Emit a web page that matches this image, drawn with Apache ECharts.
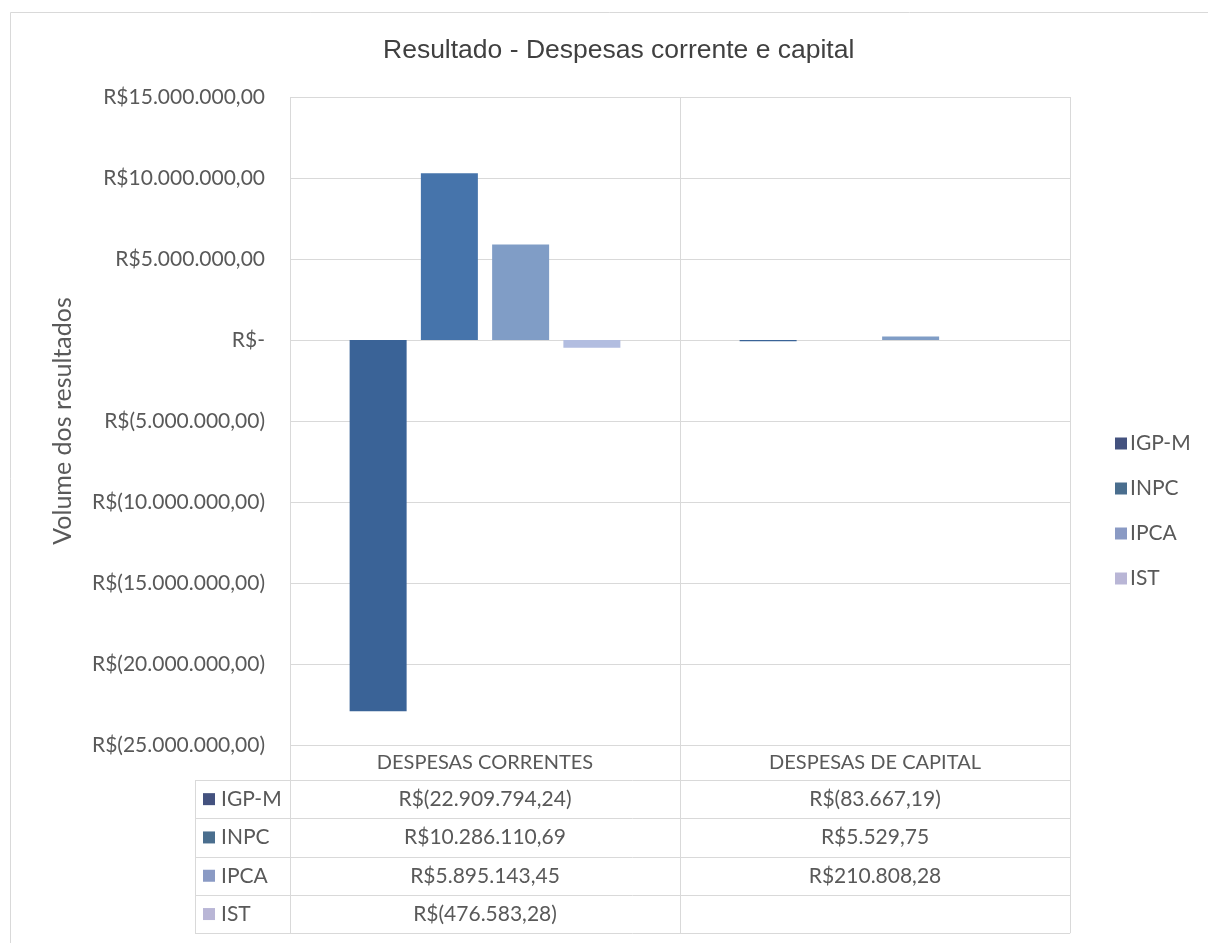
<!DOCTYPE html>
<html>
<head>
<meta charset="utf-8">
<script src="https://cdn.jsdelivr.net/npm/echarts@6/dist/echarts.min.js"></script>
<style>
  html, body { margin: 0; padding: 0; background: #ffffff; }
  #chart { width: 1208px; height: 943px; }
</style>
</head>
<body>
<div id="chart"></div>
<script>
// Categories and series values (R$)
const categories = ['DESPESAS CORRENTES', 'DESPESAS DE CAPITAL'];
const seriesNames = ['IGP-M', 'INPC', 'IPCA', 'IST'];
const igpm = [-22909794.24, -83667.19];
const inpc = [10286110.69, 5529.75];
const ipca = [5895143.45, 210808.28];
const ist = [-476583.28, null];
const yTicks = { min: -25000000, max: 15000000, interval: 5000000 };

const seriesValues = [igpm, inpc, ipca, ist];
const barColors = ['#3a6397', '#4674ab', '#809dc6', '#b2bde0'];
const keyColors = ['#44527f', '#4a6e8e', '#8a9ac4', '#b9b6d6'];

const LABEL_FONT = 'Lato, "Noto Sans", sans-serif';
const TEXT_COLOR = '#595959';

// Brazilian currency format: R$1.234,56 / R$(1.234,56)
function brl(v, decimals) {
  const abs = Math.abs(v);
  const parts = abs.toFixed(decimals).split('.');
  const int = parts[0].replace(/\B(?=(\d{3})+(?!\d))/g, '.');
  const s = decimals ? int + ',' + parts[1] : int;
  return v < 0 ? 'R$(' + s + ')' : 'R$' + s;
}
function axisLabel(v) {
  if (v === 0) return 'R$-';
  return brl(v, 2);
}

const chart = echarts.init(document.getElementById('chart'), null, { renderer: 'canvas' });

const option = {
  backgroundColor: '#ffffff',
  animation: false,
  title: {
    text: 'Resultado - Despesas corrente e capital',
    left: 378,
    top: 32,
    textStyle: { fontFamily: '"Liberation Sans", Arial, sans-serif', fontSize: 26.5, fontWeight: 'normal', color: '#404040' }
  },
  legend: {
    orient: 'vertical',
    left: 1110,
    top: 428,
    itemWidth: 12,
    itemHeight: 12,
    itemGap: 24,
    icon: 'rect',
    textStyle: { fontFamily: LABEL_FONT, fontSize: 21, color: TEXT_COLOR, padding: [0, 0, 0, -2] },
    data: seriesNames.map((n, i) => ({ name: n, itemStyle: { color: keyColors[i] } }))
  },
  grid: { left: 290, right: 138, top: 97, bottom: 198, containLabel: false },
  xAxis: {
    type: 'category',
    data: categories,
    position: 'bottom',
    axisLine: { show: false, onZero: false },
    axisTick: { show: false },
    axisLabel: { margin: 8, fontFamily: LABEL_FONT, fontSize: 20, color: TEXT_COLOR },
    splitLine: { show: true, lineStyle: { color: '#d9d9d9', width: 1 } }
  },
  yAxis: {
    type: 'value',
    min: yTicks.min,
    max: yTicks.max,
    interval: yTicks.interval,
    name: 'Volume dos resultados',
    nameLocation: 'middle',
    nameGap: 215,
    nameTextStyle: { fontFamily: LABEL_FONT, fontSize: 25, color: TEXT_COLOR },
    axisLine: { show: false },
    axisTick: { show: false },
    axisLabel: { margin: 25, fontFamily: LABEL_FONT, fontSize: 21, color: TEXT_COLOR, formatter: axisLabel },
    splitLine: { show: true, lineStyle: { color: '#d9d9d9', width: 1 } }
  },
  series: seriesNames.map((n, i) => ({
    name: n,
    type: 'bar',
    data: seriesValues[i],
    barWidth: 57,
    barGap: '25%',
    itemStyle: { color: barColors[i] }
  }))
};

chart.setOption(option);

// Data table under the plot, laid out from the axis scales
function buildTable() {
  const yBottom = chart.convertToPixel({ yAxisIndex: 0 }, yTicks.min);
  const colCenters = categories.map((c) => chart.convertToPixel({ xAxisIndex: 0 }, c));
  const colWidth = colCenters[1] - colCenters[0];
  const xLeft = colCenters[0] - colWidth / 2;
  const xRight = colCenters[colCenters.length - 1] + colWidth / 2;
  const tableLeft = xLeft - 95;
  const headerH = 35;
  const rowH = 38.3;
  const firstRowTop = yBottom + headerH;
  const tableBottom = firstRowTop + rowH * seriesNames.length;
  const lineStyle = { stroke: '#d9d9d9', lineWidth: 1 };
  const els = [];

  // outer frame of the chart area
  els.push({ type: 'rect', shape: { x: 10.5, y: 12.5, width: 1210, height: 940 }, style: { fill: null, stroke: '#d9d9d9', lineWidth: 1 }, silent: true });

  // horizontal rules
  for (let r = 0; r <= seriesNames.length; r++) {
    const y = Math.round(firstRowTop + r * rowH) + 0.5;
    els.push({ type: 'line', shape: { x1: tableLeft, y1: y, x2: xRight, y2: y }, style: lineStyle, silent: true });
  }
  // vertical rules
  const vx = [xLeft];
  colCenters.forEach((c) => vx.push(c + colWidth / 2));
  vx.forEach((x) => {
    const xx = Math.round(x) + 0.5;
    els.push({ type: 'line', shape: { x1: xx, y1: yBottom, x2: xx, y2: tableBottom }, style: lineStyle, silent: true });
  });
  els.push({ type: 'line', shape: { x1: Math.round(tableLeft) + 0.5, y1: firstRowTop, x2: Math.round(tableLeft) + 0.5, y2: tableBottom }, style: lineStyle, silent: true });

  // rows
  seriesNames.forEach((n, i) => {
    const cy = firstRowTop + rowH * (i + 0.5);
    els.push({ type: 'rect', shape: { x: tableLeft + 8, y: cy - 6, width: 12, height: 12 }, style: { fill: keyColors[i] }, silent: true });
    els.push({ type: 'text', x: tableLeft + 26, y: cy, style: { text: n, fontFamily: LABEL_FONT, fontSize: 21, fill: TEXT_COLOR, textVerticalAlign: 'middle', textAlign: 'left' }, silent: true });
    seriesValues[i].forEach((v, j) => {
      if (v === null || v === undefined) return;
      els.push({ type: 'text', x: colCenters[j], y: cy, style: { text: brl(v, 2), fontFamily: LABEL_FONT, fontSize: 21, fill: TEXT_COLOR, textVerticalAlign: 'middle', textAlign: 'center' }, silent: true });
    });
  });
  chart.setOption({ graphic: els });
}
buildTable();
</script>
</body>
</html>
